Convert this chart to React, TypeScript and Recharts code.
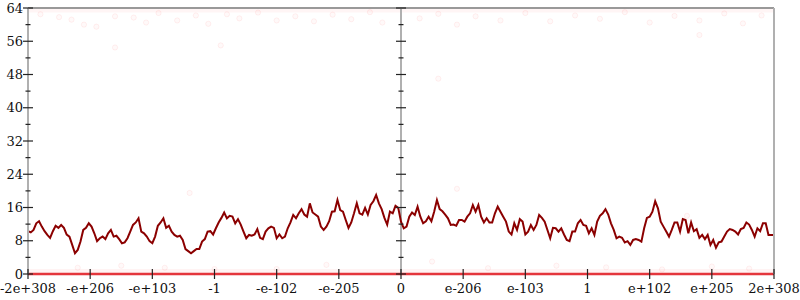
import React from "react";
import {
  ComposedChart,
  Line,
  Scatter,
  XAxis,
  YAxis,
  ReferenceLine,
  ReferenceArea,
} from "recharts";

// x tick labels, left to right (float ranges)
const xLabels = [
  "-2e+308", "-e+206", "-e+103", "-1", "-e-102", "-e-205", "0",
  "e-206", "e-103", "1", "e+102", "e+205", "2e+308",
];
const xTicks = [-6, -5, -4, -3, -2, -1, 0, 1, 2, 3, 4, 5, 6];
const yTicks = [0, 4, 8, 12, 16, 20, 24, 28, 32, 36, 40, 44, 48, 52, 56, 60, 64];

// main trace, evenly spaced across the axis
const trace = [
  10.3, 10.0, 10.6, 12.2, 12.7, 11.4, 10.3, 9.4, 8.7, 10.3,
  11.6, 11.1, 11.8, 11.1, 9.5, 9.0, 7.0, 5.0, 5.8, 7.8,
  10.6, 11.1, 12.2, 11.4, 9.8, 7.9, 8.6, 9.0, 8.4, 9.8,
  10.6, 9.0, 9.2, 8.4, 7.4, 7.6, 8.6, 10.2, 11.8, 12.4,
  13.4, 10.2, 9.8, 9.0, 7.9, 7.4, 9.0, 11.6, 12.4, 13.4,
  11.1, 11.6, 10.2, 9.4, 9.0,
  9.2, 8.2, 6.0, 5.5, 5.0, 5.5, 6.0, 6.0, 7.8, 8.4,
  10.2, 10.3, 9.5, 11.0, 12.4, 13.5, 14.8, 13.4, 14.0, 13.8,
  12.2, 13.2, 11.9, 10.2, 8.6, 9.4, 9.2, 9.5, 10.8, 8.7,
  8.4, 10.2, 11.0, 11.4, 11.1, 8.6, 9.5, 8.6, 9.0, 11.0,
  12.4, 14.2, 13.4, 14.6, 15.6, 14.3, 13.8, 17.0, 14.8, 14.3,
  13.8, 11.4, 10.6,
  11.4, 12.7, 15.0, 15.1, 17.8, 15.4, 15.0, 13.0, 11.1, 12.4,
  14.6, 17.0, 14.6, 14.3, 15.9, 14.3, 16.6, 17.5, 19.0, 17.0,
  15.6, 13.5, 11.9, 15.0, 14.6, 16.4, 15.9, 12.6, 11.0, 11.4,
  13.8, 14.8, 14.2, 16.2, 13.8, 12.2, 12.7, 13.8, 12.7, 15.0,
  17.8, 15.6, 15.1, 14.3, 13.4, 11.8, 11.9, 11.6, 13.0, 13.0,
  12.6, 13.8, 14.6,
  16.6, 15.0, 16.6, 13.8, 12.4, 13.4, 12.4, 12.4, 14.6, 16.2,
  15.0, 13.8, 12.6, 10.2, 9.5, 12.2, 10.6, 13.2, 12.6, 9.5,
  10.2, 11.8, 10.6, 11.8, 14.2, 13.5, 12.6, 10.6, 8.6, 11.1,
  11.0, 10.2, 11.0, 9.5, 8.2, 7.9, 10.2, 10.2, 12.2, 13.0,
  11.8, 11.6, 9.8, 11.0, 9.4, 12.6, 14.0, 14.6, 15.6, 14.3,
  12.2, 10.6, 8.6, 9.0, 8.7,
  7.6, 7.9, 7.0, 8.2, 8.4, 8.2, 7.8, 11.0, 13.5, 13.8,
  15.0, 17.5, 15.8, 12.6, 11.4, 10.2, 9.0, 10.6, 12.4, 12.4,
  10.2, 13.2, 13.0, 9.8, 12.4, 10.3, 10.8, 8.7, 9.4, 8.4,
  9.4, 7.0, 8.2, 6.3, 7.6, 7.8, 9.0, 10.2, 10.8, 10.6,
  10.2, 9.5, 10.8, 11.1, 12.4, 11.9, 10.6, 9.0, 11.0, 10.3,
  12.2, 12.2, 9.4, 9.4, 9.4,
];

// faint raw samples piled near the limits
const topDotX = [-5.8, -5.5, -5.3, -5.1, -4.9, -4.6, -4.3, -4.1, -3.9, -3.6, -3.3, -3.1, -2.8, -2.6, -2.3, -2.0, -1.7, -1.4, -1.1, -0.8, -0.5, -0.3, 0.3, 0.6, 0.9, 1.2, 1.6, 2.0, 2.4, 2.8, 3.2, 3.6, 4.0, 4.4, 4.8, 5.2, 5.5, 5.8, -4.6, -2.9, 0.6, 4.8];
const topDotY = [62.5, 61.8, 61.2, 60.0, 59.5, 62.0, 61.7, 60.5, 62.8, 61.0, 62.2, 60.2, 62.5, 61.5, 62.9, 61.0, 62.0, 60.8, 62.4, 61.3, 63.0, 60.5, 61.5, 62.6, 60.0, 62.0, 61.0, 62.8, 60.8, 62.2, 61.4, 63.0, 60.5, 62.1, 61.0, 62.7, 60.3, 62.2, 54.5, 55.0, 47.0, 57.5];
const lowDotX = [-5.2, -4.5, -3.8, -3.0, -2.0, -1.2, 0.5, 1.4, 2.5, 3.3, 4.2, 5.0, 5.6, -3.4, 0.9, 4.6];
const lowDotY = [1.5, 2.0, 1.5, 1.2, 1.2, 2.2, 3.0, 1.4, 2.0, 1.6, 1.1, 1.8, 1.3, 19.5, 20.5, 14.0];

const n = trace.length;
const data = trace.map((y, i) => ({ x: -6 + (12 * i) / (n - 1), y }));
const dots = [
  ...topDotX.map((x, i) => ({ x, y: topDotY[i] })),
  ...lowDotX.map((x, i) => ({ x, y: lowDotY[i] })),
];
const centerTicks = yTicks.map((y) => ({ x: 0, y }));

const AXIS = "#b0b0b0";
const TICK = "#222";
const FONT = "DejaVu Serif";

function YTick(props: any) {
  const { x, y, payload, showLabel } = props;
  const major = payload.value % 8 === 0;
  const h = major ? 5 : 2.5;
  return (
    <g>
      <line x1={x - h} x2={x + h} y1={y} y2={y} stroke={TICK} strokeWidth={1.2} />
      {showLabel && major ? (
        <text x={x - 5} y={y + 4.5} textAnchor="end" fontFamily={FONT} fontSize={13} fill="#111">
          {payload.value}
        </text>
      ) : null}
    </g>
  );
}

function XTick(props: any) {
  const { x, y, payload } = props;
  const idx = xTicks.indexOf(payload.value);
  return (
    <g>
      <line x1={x} x2={x} y1={y - 5} y2={y + 5} stroke={TICK} strokeWidth={1.2} />
      <text x={x} y={y + 19} textAnchor="middle" fontFamily={FONT} fontSize={13} fill="#111">
        {xLabels[idx]}
      </text>
    </g>
  );
}

function CenterTick(props: any) {
  const { cx, cy, payload } = props;
  const h = payload.y % 8 === 0 ? 5 : 2.5;
  return <line x1={cx - h} x2={cx + h} y1={cy} y2={cy} stroke={TICK} strokeWidth={1.2} />;
}

function Dot(props: any) {
  const { cx, cy } = props;
  return <circle cx={cx} cy={cy} r={2.6} fill="rgba(255,60,60,0.03)" stroke="rgba(255,60,60,0.07)" strokeWidth={1} />;
}

export default function App() {
  return (
    <div style={{ position: "absolute", left: 0, top: 0, background: "#fff" }}>
      <ComposedChart width={800} height={300} data={data} margin={{ top: 8, right: 0, bottom: 0, left: 0 }}>
        <XAxis
          type="number"
          dataKey="x"
          domain={[-6, 6]}
          ticks={xTicks}
          interval={0}
          height={26}
          tickSize={0}
          tickMargin={0}
          tickLine={false}
          axisLine={false}
          tick={(p: any) => <XTick {...p} />}
        />
        <YAxis
          yAxisId="l"
          domain={[0, 64]}
          ticks={yTicks}
          interval={0}
          width={28}
          tickSize={0}
          tickMargin={0}
          tickLine={false}
          axisLine={{ stroke: AXIS, strokeWidth: 2 }}
          tick={(p: any) => <YTick {...p} showLabel />}
        />
        <YAxis
          yAxisId="r"
          orientation="right"
          domain={[0, 64]}
          ticks={yTicks}
          interval={0}
          width={26}
          tickSize={0}
          tickMargin={0}
          tickLine={false}
          axisLine={{ stroke: AXIS, strokeWidth: 2 }}
          tick={(p: any) => <YTick {...p} />}
        />
        <ReferenceLine yAxisId="l" x={0} stroke={AXIS} strokeWidth={2} />
        <ReferenceLine yAxisId="l" y={64} stroke="#999" strokeWidth={2} />
        <ReferenceArea yAxisId="l" y1={62.9} y2={64} fill="rgba(255,60,60,0.10)" stroke="none" />
        <ReferenceArea yAxisId="l" y1={0} y2={1.2} fill="rgba(255,60,60,0.12)" stroke="none" />
        <ReferenceLine yAxisId="l" y={0} stroke="#e4363c" strokeWidth={2.5} />
        <Scatter yAxisId="l" data={dots} dataKey="y" shape={(p: any) => <Dot {...p} />} isAnimationActive={false} />
        <Scatter yAxisId="l" data={centerTicks} dataKey="y" shape={(p: any) => <CenterTick {...p} />} isAnimationActive={false} />
        <Line
          yAxisId="l"
          dataKey="y"
          type="linear"
          stroke="#8b0000"
          strokeWidth={2}
          dot={false}
          isAnimationActive={false}
        />
      </ComposedChart>
    </div>
  );
}
